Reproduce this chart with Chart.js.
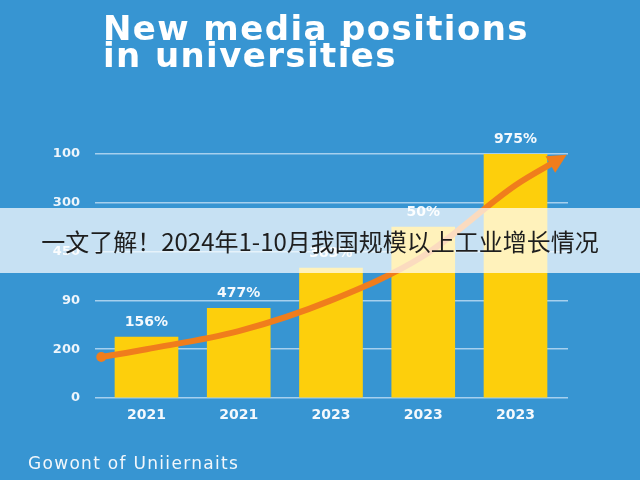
<!DOCTYPE html>
<html>
<head>
<meta charset="utf-8">
<title>New media positions in universities</title>
<script src="https://cdn.jsdelivr.net/npm/chart.js@4.4.0/dist/chart.umd.min.js"></script>
<style>
  html, body { margin: 0; padding: 0; }
  body {
    width: 640px; height: 480px; overflow: hidden; position: relative;
    background: #3795d2;
    font-family: "DejaVu Sans", sans-serif;
  }
  #wrap { position: absolute; left: 0; top: 0; width: 640px; height: 480px; }
  #title {
    position: absolute; left: 103px; top: 15px;
    color: #ffffff; font: bold 34px/27px "DejaVu Sans", sans-serif;
    letter-spacing: 1.4px;
  }
  #footer {
    position: absolute; left: 28px; top: 452px;
    color: #f2f7fb; font: 17px/22px "DejaVu Sans", sans-serif;
    letter-spacing: 1.3px;
  }
  #band {
    position: absolute; left: 0; top: 208px; width: 640px; height: 65px;
    background: rgba(255, 255, 255, 0.72);
    color: #1e1e1e; text-align: center;
    font: 24px/65px "Noto Sans CJK SC", sans-serif;
  }
</style>
</head>
<body>
<div id="wrap"><canvas id="chart"></canvas></div>
<div id="title">New media positions<br>in universities</div>
<div id="footer">Gowont of Uniiernaits</div>
<div id="band">一文了解！2024年1-10月我国规模以上工业增长情况</div>

<script>
// values (y in axis-step units, one step per gridline)
const years = ['2021', '2021', '2023', '2023', '2023'];
const barValues = [1.25, 1.84, 2.66, 3.5, 5.0];
const barLabels = ['156%', '477%', '383%', '50%', '975%'];
const yTickLabels = ['0', '200', '90', '450', '300', '100'];

// orange trend arrow, x in category index units
const trendX = [-0.49, 0, 1, 2, 3, 4, 4.48];
const trendY = [0.84, 1.0, 1.37, 2.0, 2.91, 4.36, 4.9];

const ORANGE = '#f07d1c';
const YELLOW = '#fdcf0c';

// value labels above the bars
const barLabelPlugin = {
    id: 'barLabels',
    afterDatasetsDraw(chart) {
        const ctx = chart.ctx;
        const meta = chart.getDatasetMeta(1);
        ctx.save();
        ctx.font = 'bold 14px "DejaVu Sans"';
        ctx.fillStyle = '#f4f9fd';
        ctx.textAlign = 'center';
        ctx.textBaseline = 'middle';
        meta.data.forEach(function(bar, i) {
            ctx.fillText(barLabels[i], bar.x, bar.y - 15);
        });
        ctx.restore();
    }
};

// arrow head at the end of the trend line
const arrowPlugin = {
    id: 'arrowHead',
    afterDatasetsDraw(chart) {
        const ctx = chart.ctx;
        const pts = chart.getDatasetMeta(0).data;
        const last = pts[pts.length - 1];
        const prev = pts[pts.length - 2];
        const fromX = last.cp1x !== undefined ? last.cp1x : prev.x;
        const fromY = last.cp1y !== undefined ? last.cp1y : prev.y;
        const a = Math.atan2(last.y - fromY, last.x - fromX);
        const dx = Math.cos(a), dy = Math.sin(a);
        const tipX = last.x + dx * 8, tipY = last.y + dy * 8;
        const baseX = last.x - dx * 11, baseY = last.y - dy * 11;
        ctx.save();
        ctx.fillStyle = ORANGE;
        ctx.beginPath();
        ctx.moveTo(tipX, tipY);
        ctx.lineTo(baseX - dy * 9.5, baseY + dx * 9.5);
        ctx.lineTo(baseX + dy * 9.5, baseY - dx * 9.5);
        ctx.closePath();
        ctx.fill();
        ctx.restore();
    }
};

new Chart(document.getElementById('chart'), {
    type: 'bar',
    data: {
        datasets: [
            {
                type: 'line',
                data: trendX.map(function(x, i) { return { x: x, y: trendY[i] }; }),
                borderColor: ORANGE,
                borderWidth: 6,
                borderCapStyle: 'butt',
                cubicInterpolationMode: 'monotone',
                pointRadius: function(c) { return c.dataIndex === 0 ? 5 : 0; },
                pointBackgroundColor: ORANGE,
                pointBorderWidth: 0,
                order: 0
            },
            {
                type: 'bar',
                data: barValues.map(function(v, i) { return { x: i, y: v }; }),
                backgroundColor: YELLOW,
                barThickness: 63,
                order: 1
            }
        ]
    },
    options: {
        responsive: true,
        maintainAspectRatio: false,
        animation: false,
        layout: { padding: { top: 154, right: 72, bottom: 52, left: 0 } },
        plugins: {
            legend: { display: false },
            tooltip: { enabled: false }
        },
        scales: {
            x: {
                type: 'linear',
                offset: false,
                min: -0.558,
                max: 4.569,
                grid: { display: false, drawTicks: false },
                border: { display: false },
                afterBuildTicks: function(axis) {
                    axis.ticks = years.map(function(_, i) { return { value: i }; });
                },
                afterFit: function(axis) { axis.height = 30; },
                ticks: {
                    padding: 9,
                    color: '#f4f9fd',
                    font: { family: 'DejaVu Sans', size: 14, weight: 'bold' },
                    callback: function(v) { return years[v]; }
                }
            },
            y: {
                min: 0,
                max: 5,
                grid: { color: '#a6d0ee', lineWidth: 1.5, drawTicks: false },
                border: { display: false },
                afterFit: function(axis) { axis.width = 95; },
                ticks: {
                    stepSize: 1,
                    padding: 15,
                    color: '#eef5fb',
                    font: { family: 'DejaVu Sans', size: 13, weight: 'bold' },
                    callback: function(v) { return yTickLabels[v]; }
                }
            }
        }
    },
    plugins: [barLabelPlugin, arrowPlugin]
});
</script>
</body>
</html>
